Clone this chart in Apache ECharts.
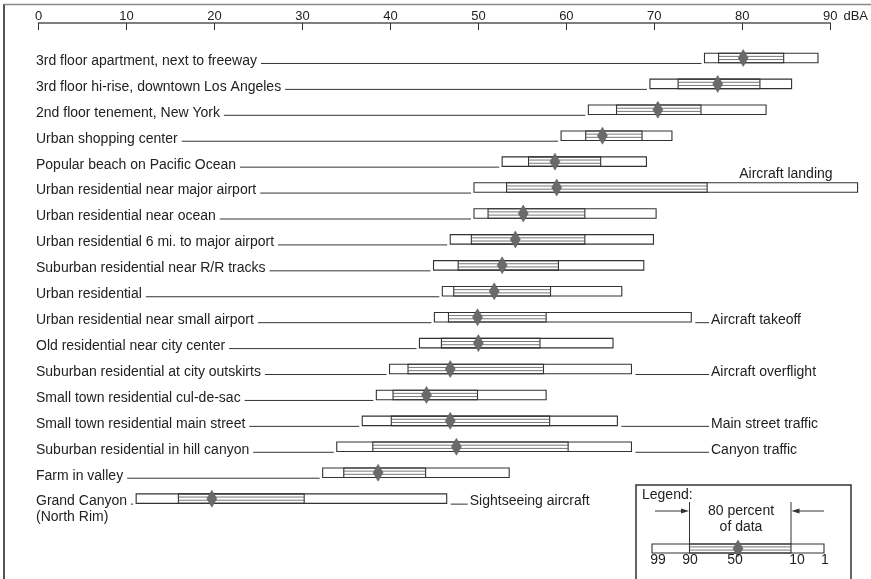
<!DOCTYPE html>
<html><head><meta charset="utf-8">
<script src="https://cdn.jsdelivr.net/npm/echarts@6.0.0/dist/echarts.min.js"></script>
<style>html,body{margin:0;padding:0;background:#fff}#c{width:871px;height:579px}</style>
</head><body><div id="c"></div>
<script>
// ---- data ----
const categories = [
  '3rd floor apartment, next to freeway',
  '3rd floor hi-rise, downtown Los Angeles',
  '2nd floor tenement, New York',
  'Urban shopping center',
  'Popular beach on Pacific Ocean',
  'Urban residential near major airport',
  'Urban residential near ocean',
  'Urban residential 6 mi. to major airport',
  'Suburban residential near R/R tracks',
  'Urban residential',
  'Urban residential near small airport',
  'Old residential near city center',
  'Suburban residential at city outskirts',
  'Small town residential cul-de-sac',
  'Small town residential main street',
  'Suburban residential in hill canyon',
  'Farm in valley',
  'Grand Canyon\n(North Rim)'
];
const p99 = [75.7, 69.5, 62.5, 59.4, 52.7, 49.5, 49.5, 46.8, 44.9, 45.9, 45.0, 43.3, 39.9, 38.4, 36.8, 33.9, 32.3, 11.1];
const p90 = [77.3, 72.7, 65.7, 62.2, 55.7, 53.2, 51.1, 49.2, 47.7, 47.2, 46.6, 45.8, 42.0, 40.3, 40.1, 38.0, 34.7, 15.9];
const p50 = [80.1, 77.2, 70.4, 64.1, 58.7, 58.9, 55.1, 54.2, 52.7, 51.8, 49.9, 50.0, 46.8, 44.1, 46.8, 47.5, 38.6, 19.7];
const p10 = [84.7, 82.0, 75.3, 68.6, 63.9, 76.0, 62.1, 62.1, 59.1, 58.2, 57.7, 57.0, 57.4, 49.9, 58.1, 60.2, 44.0, 30.2];
const p1  = [88.6, 85.6, 82.7, 72.0, 69.1, 93.1, 70.2, 69.9, 68.8, 66.3, 74.2, 65.3, 67.4, 57.7, 65.8, 67.4, 53.5, 46.4];
const tickLabels = ['0', '10', '20', '30', '40', '50', '60', '70', '80', '90'];
const axisUnit = 'dBA';
const noteRows = [5, 10, 12, 14, 15, 17];
const noteTexts = ['Aircraft landing', 'Aircraft takeoff', 'Aircraft overflight', 'Main street traffic', 'Canyon traffic', 'Sightseeing aircraft'];
const legendTitle = 'Legend:';
const legendCaption = '80 percent\nof data';
const legendPercentiles = ['99', '90', '50', '10', '1'];

// ---- rendering ----
const FONT = '"Liberation Sans", Arial, sans-serif';
const INK = '#222';
const LINE = '#333';
const mctx = document.createElement('canvas').getContext('2d');
mctx.font = '14px "Liberation Sans"';
function tw(s) { return mctx.measureText(s).width; }

const seriesData = categories.map((c, i) => [i, p99[i], p90[i], p50[i], p10[i], p1[i]]);

function box(xs, y, h) {
  const els = [];
  const [a, b, m, c, d] = xs;
  els.push({ type: 'rect', shape: { x: a, y: y - h / 2, width: d - a, height: h },
    style: { fill: '#fff', stroke: LINE, lineWidth: 1.1 } });
  els.push({ type: 'rect', shape: { x: b, y: y - h / 2, width: c - b, height: h },
    style: { fill: 'none', stroke: LINE, lineWidth: 1.1 } });
  els.push({ type: 'line', shape: { x1: b, y1: y - 1.6, x2: c, y2: y - 1.6 }, style: { stroke: '#555', lineWidth: 0.8 } });
  els.push({ type: 'line', shape: { x1: b, y1: y + 1.6, x2: c, y2: y + 1.6 }, style: { stroke: '#555', lineWidth: 0.8 } });
  els.push({ type: 'polygon', shape: { points: [[m, y - 8.5], [m + 5, y], [m, y + 8.5], [m - 5, y]] },
    style: { fill: '#6a6a6a', stroke: '#5a5a5a', lineWidth: 0.5 } });
  return els;
}

function renderItem(params, api) {
  const i = api.value(0);
  const y = api.coord([0, i])[1];
  const xs = [1, 2, 3, 4, 5].map(k => api.coord([api.value(k), i])[0]);
  const children = [];
  const label = categories[i];
  const first = label.split('\n')[0];
  const lx = 36;
  children.push({ type: 'text', style: { x: lx, y: y - 5, text: label, fill: INK, fontSize: 14,
    fontFamily: FONT, verticalAlign: 'top', lineHeight: 16 } });
  const ls = lx + tw(first) + 4;
  const le = xs[0] - 3;
  if (le > ls) children.push({ type: 'line', shape: { x1: ls, y1: y + 5.5, x2: le, y2: y + 5.5 },
    style: { stroke: LINE, lineWidth: 1 } });
  children.push(...box(xs, y, 9.5));
  const ni = noteRows.indexOf(i);
  if (ni >= 0) {
    const nb = xs[4];
    if (nb > 831) {
      children.push({ type: 'text', style: { x: nb - 25, y: y - 13, text: noteTexts[ni], fill: INK, fontSize: 14,
        fontFamily: FONT, align: 'right', verticalAlign: 'middle' } });
    } else {
      const tx = nb > 600 ? 711 : nb + 23;
      children.push({ type: 'line', shape: { x1: nb + 4, y1: y + 5.5, x2: tx - 2, y2: y + 5.5 },
        style: { stroke: LINE, lineWidth: 1 } });
      children.push({ type: 'text', style: { x: tx, y: y + 3, text: noteTexts[ni], fill: INK, fontSize: 14,
        fontFamily: FONT, verticalAlign: 'middle' } });
    }
  }
  return { type: 'group', children };
}

// legend key (decoration)
const LG = [];
LG.push({ type: 'rect', shape: { x: 636, y: 485, width: 215, height: 110 }, style: { fill: '#fff', stroke: '#333', lineWidth: 1.5 }, z: 10 });
LG.push({ type: 'text', style: { x: 642, y: 495, text: legendTitle, fill: INK, fontSize: 14, fontFamily: FONT, verticalAlign: 'middle' }, z: 11 });
LG.push({ type: 'text', style: { x: 741, y: 519, text: legendCaption, fill: INK, fontSize: 14, fontFamily: FONT, align: 'center', verticalAlign: 'middle', lineHeight: 16 }, z: 11 });
const lgx = [652, 689.5, 738, 791, 824];
LG.push({ type: 'line', shape: { x1: lgx[1], y1: 502, x2: lgx[1], y2: 544 }, style: { stroke: LINE, lineWidth: 1 }, z: 11 });
LG.push({ type: 'line', shape: { x1: lgx[3], y1: 502, x2: lgx[3], y2: 544 }, style: { stroke: LINE, lineWidth: 1 }, z: 11 });
LG.push({ type: 'line', shape: { x1: 655, y1: 511, x2: 684, y2: 511 }, style: { stroke: LINE, lineWidth: 1 }, z: 11 });
LG.push({ type: 'polygon', shape: { points: [[689, 511], [681, 508.5], [681, 513.5]] }, style: { fill: LINE }, z: 11 });
LG.push({ type: 'line', shape: { x1: 797, y1: 511, x2: 824, y2: 511 }, style: { stroke: LINE, lineWidth: 1 }, z: 11 });
LG.push({ type: 'polygon', shape: { points: [[791.5, 511], [799.5, 508.5], [799.5, 513.5]] }, style: { fill: LINE }, z: 11 });
box(lgx, 548.5, 9).forEach(e => { e.z = 11; LG.push(e); });
const lgLab = [658, 690, 735, 797, 825];
legendPercentiles.forEach((t, k) => LG.push({ type: 'text', style: { x: lgLab[k], y: 560, text: t, fill: INK, fontSize: 14, fontFamily: FONT, align: 'center', verticalAlign: 'middle' }, z: 12 }));
// figure frame
LG.push({ type: 'line', shape: { x1: 4, y1: 4, x2: 4, y2: 579 }, style: { stroke: '#555', lineWidth: 2 }, z: 9 });
LG.push({ type: 'line', shape: { x1: 4, y1: 4.5, x2: 871, y2: 4.5 }, style: { stroke: '#888', lineWidth: 1.5 }, z: 9 });

const chart = echarts.init(document.getElementById('c'), null, { renderer: 'canvas' });
chart.setOption({
  animation: false,
  backgroundColor: '#fff',
  grid: { left: 38.5, right: 39.5, top: 45, bottom: 67.4 },
  xAxis: {
    type: 'value', position: 'top', min: 0, max: 90, interval: 10, offset: 22,
    axisLine: { show: true, lineStyle: { color: '#555', width: 1.5 } },
    axisTick: { show: true, inside: true, length: 7, lineStyle: { color: '#333', width: 1 } },
    axisLabel: { margin: 0, color: INK, fontSize: 13, fontFamily: FONT,
      formatter: v => tickLabels[Math.round(v / 10)] },
    splitLine: { show: false },
    name: axisUnit, nameLocation: 'end', nameGap: 9,
    nameTextStyle: { color: INK, fontSize: 13, fontFamily: FONT, verticalAlign: 'bottom', padding: [0, 0, 0, 0] }
  },
  yAxis: { type: 'category', data: categories, inverse: true, show: false },
  graphic: { elements: LG },
  series: [{
    type: 'custom', renderItem, data: seriesData, clip: false,
    encode: { x: [1, 2, 3, 4, 5], y: 0 }, silent: true
  }]
});
</script>
</body></html>
